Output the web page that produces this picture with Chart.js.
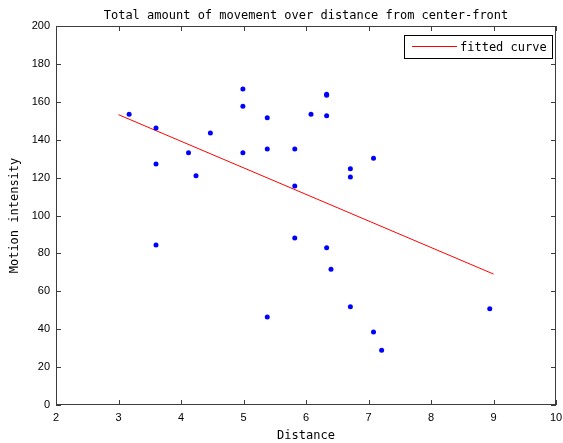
<!DOCTYPE html>
<html>
<head>
<meta charset="utf-8">
<script src="https://cdn.jsdelivr.net/npm/chart.js@4/dist/chart.umd.min.js"></script>
<style>
    html, body { margin: 0; padding: 0; background: #fff; }
    #wrap { width: 563px; height: 443px; }
</style>
</head>
<body>
<div id="wrap"><canvas id="motionChart" width="563" height="443"></canvas></div>
<script>
// Measured points (distance from center-front vs motion intensity)
const distance = [3.17, 3.6, 3.6, 3.6, 4.12, 4.24, 4.47, 4.99, 4.99, 4.99,
    5.38, 5.38, 5.38, 5.82, 5.82, 5.82, 6.08, 6.33, 6.33, 6.33, 6.33,
    6.4, 6.71, 6.71, 6.71, 7.08, 7.08, 7.21, 8.94];
const intensity = [153.4, 146.2, 127.2, 84.4, 133.1, 121, 143.5, 166.8, 157.6, 133.1,
    151.6, 135.1, 46.4, 135.1, 115.6, 88.1, 153.4, 163.4, 164, 152.7, 83,
    71.6, 124.7, 120.3, 51.9, 130.2, 38.5, 28.9, 50.8];

// Fitted curve end points
const fitX = [3, 9];
const fitY = [153.2, 69.1];

const xTicks = [2, 3, 4, 5, 6, 7, 8, 9, 10];
const yTicks = [0, 20, 40, 60, 80, 100, 120, 140, 160, 180, 200];

const MONO = '"DejaVu Sans Mono", monospace';
const SANS = '"Liberation Sans", Arial, sans-serif';

// Box around the plot, inward ticks on all sides and the legend inside the axes
const matlabFrame = {
    id: 'matlabFrame',
    afterDraw(chart) {
        const { ctx, chartArea: a, scales } = chart;
        const tick = 5;
        ctx.save();
        ctx.strokeStyle = '#3c3c3c';
        ctx.lineWidth = 1;
        ctx.strokeRect(a.left + 0.5, a.top + 0.5, a.right - a.left - 1, a.bottom - a.top - 1);
        ctx.beginPath();
        xTicks.forEach(v => {
            const px = Math.round(scales.x.getPixelForValue(v)) + 0.5;
            ctx.moveTo(px, a.bottom); ctx.lineTo(px, a.bottom - tick);
            ctx.moveTo(px, a.top); ctx.lineTo(px, a.top + tick);
        });
        yTicks.forEach(v => {
            const py = Math.round(scales.y.getPixelForValue(v)) + 0.5;
            ctx.moveTo(a.left, py); ctx.lineTo(a.left + tick, py);
            ctx.moveTo(a.right, py); ctx.lineTo(a.right - tick, py);
        });
        ctx.stroke();

        // legend
        const ds = chart.data.datasets[1];
        const bx = a.right - 152, by = a.top + 9, bw = 148, bh = 23;
        ctx.fillStyle = '#fff';
        ctx.fillRect(bx, by, bw, bh);
        ctx.strokeStyle = '#000';
        ctx.strokeRect(bx + 0.5, by + 0.5, bw, bh);
        ctx.strokeStyle = ds.borderColor;
        ctx.beginPath();
        ctx.moveTo(bx + 8, by + 11.5);
        ctx.lineTo(bx + 53, by + 11.5);
        ctx.stroke();
        ctx.fillStyle = '#000';
        ctx.font = '12px ' + MONO;
        ctx.textBaseline = 'middle';
        ctx.fillText(ds.label, bx + 56, by + 13);
        ctx.restore();
    }
};

const ctx = document.getElementById('motionChart').getContext('2d');
new Chart(ctx, {
    type: 'scatter',
    data: {
        datasets: [{
            label: 'data',
            data: distance.map((d, i) => ({ x: d, y: intensity[i] })),
            backgroundColor: '#0000ff',
            borderWidth: 0,
            pointRadius: 2.5,
            pointStyle: 'circle'
        }, {
            label: 'fitted curve',
            data: fitX.map((d, i) => ({ x: d, y: fitY[i] })),
            showLine: true,
            borderColor: '#ff0000',
            borderWidth: 1,
            pointRadius: 0
        }]
    },
    options: {
        responsive: false,
        animation: false,
        layout: { padding: { left: 0, right: 7, top: 0, bottom: 0 } },
        plugins: {
            legend: { display: false },
            tooltip: { enabled: false },
            title: {
                display: true,
                fullSize: false,
                text: 'Total amount of movement over distance from center-front',
                color: '#000',
                font: { family: MONO, size: 12, weight: 'normal' },
                padding: { top: 9, bottom: 2.6 }
            }
        },
        scales: {
            x: {
                type: 'linear',
                min: 2,
                max: 10,
                grid: { display: false, drawTicks: false },
                border: { display: false },
                afterBuildTicks: s => { s.ticks = xTicks.map(v => ({ value: v })); },
                afterFit: s => { s.height = 38; s.paddingLeft = 0; s.paddingRight = 0; },
                ticks: {
                    color: '#000',
                    padding: 6,
                    maxRotation: 0,
                    autoSkip: false,
                    font: { family: SANS, size: 11 }
                },
                title: {
                    display: true,
                    text: 'Distance',
                    color: '#000',
                    font: { family: MONO, size: 12 },
                    padding: { top: 0, bottom: 0 }
                }
            },
            y: {
                type: 'linear',
                min: 0,
                max: 200,
                grid: { display: false, drawTicks: false },
                border: { display: false },
                afterBuildTicks: s => { s.ticks = yTicks.map(v => ({ value: v })); },
                afterFit: s => { s.width = 56; s.paddingTop = 0; s.paddingBottom = 0; },
                ticks: {
                    color: '#000',
                    padding: 6,
                    autoSkip: false,
                    font: { family: SANS, size: 11 }
                },
                title: {
                    display: true,
                    text: 'Motion intensity',
                    color: '#000',
                    font: { family: MONO, size: 12 },
                    padding: { top: 8, bottom: 0 }
                }
            }
        }
    },
    plugins: [matlabFrame]
});
</script>
</body>
</html>
